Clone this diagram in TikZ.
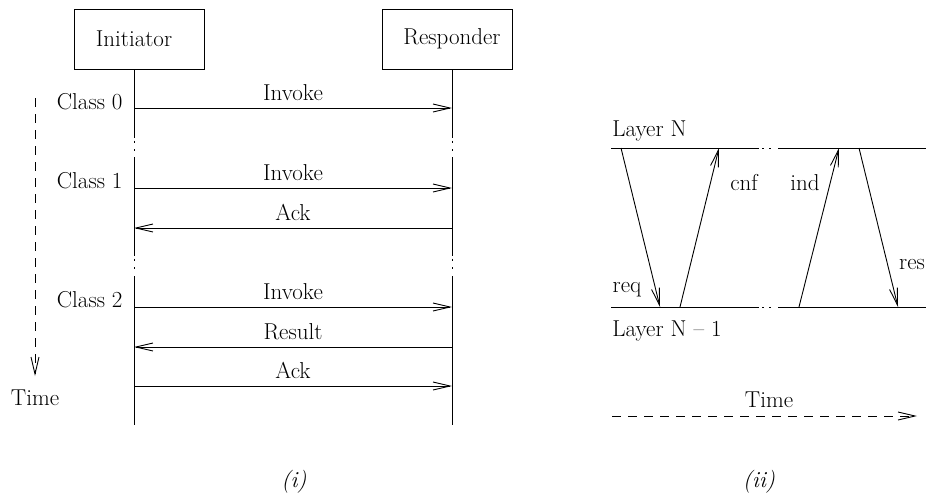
\documentclass[tikz,border=0pt]{standalone}
\usepackage{fontspec}
\setmainfont{Latin Modern Roman}
\usetikzlibrary{arrows.meta}
\begin{document}
\begin{tikzpicture}[x=1pt,y=-1pt,
  font=\fontsize{23}{27}\selectfont,
  line width=0.9pt,
  msg/.style={-{Straight Barb[length=17pt,width=8pt,line width=0.9pt]}},
  timeline/.style={msg, dash pattern=on 9pt off 7pt},
  box/.style={draw, minimum width=130pt, minimum height=60pt, inner sep=0pt},
  lbl/.style={inner sep=0pt}]
\useasboundingbox (0,0) rectangle (926,493);

% ---------- (i) ----------
\node[box] (ini) at (139,39) {\raisebox{-3pt}{Initiator\hspace{10pt}}};
\node[box] (res) at (447.5,39) {\raisebox{-3pt}{\hspace{9pt}Responder}};

% lifelines (with breaks)
\foreach \n/\x in {a/134,b/452}{
  \coordinate (\n top) at (\x,69);
  \coordinate (\n e1) at (\x,138);
  \coordinate (\n d1) at (\x,140.5); \coordinate (\n d1b) at (\x,142.5);
  \coordinate (\n d2) at (\x,149);   \coordinate (\n d2b) at (\x,151);
  \coordinate (\n s2) at (\x,157);
  \coordinate (\n e2) at (\x,256);
  \coordinate (\n d3) at (\x,258.5); \coordinate (\n d3b) at (\x,260.5);
  \coordinate (\n d4) at (\x,267);   \coordinate (\n d4b) at (\x,269);
  \coordinate (\n s3) at (\x,276);
  \coordinate (\n bot) at (\x,425);
  \draw (\n top) -- (\n e1) (\n d1) -- (\n d1b) (\n d2) -- (\n d2b)
        (\n s2) -- (\n e2) (\n d3) -- (\n d3b) (\n d4) -- (\n d4b)
        (\n s3) -- (\n bot);
}

% message anchors
\foreach \y/\k in {108/1,188/2,228/3,307/4,347/5,386/6}{
  \coordinate (L\k) at (134,\y);
  \coordinate (R\k) at (452,\y);
}
\draw[msg] (L1) -- (R1) node[midway, above=7pt, lbl] (m1) {Invoke};
\draw[msg] (L2) -- (R2) node[midway, above=7pt, lbl] (m2) {Invoke};
\draw[msg] (R3) -- (L3) node[midway, above=7pt, lbl] (m3) {Ack};
\draw[msg] (L4) -- (R4) node[midway, above=7pt, lbl] (m4) {Invoke};
\draw[msg] (R5) -- (L5) node[midway, above=7pt, lbl] (m5) {Result};
\draw[msg] (L6) -- (R6) node[midway, above=7pt, lbl] (m6) {Ack};

\node[lbl, anchor=east] (c0) at (123,102) {Class 0};
\node[lbl, anchor=east] (c1) at (123,181) {Class 1};
\node[lbl, anchor=east] (c2) at (123,300) {Class 2};

\coordinate (t1s) at (35,98);
\node[lbl] (t1) at (35,398) {Time};
\coordinate (t1e) at (35,376);
\draw[timeline] (t1s) -- (t1e);

\node[lbl] (capi) at (294,482) {\itshape (i)};

% ---------- (ii) ----------
\node[lbl, anchor=west] (LN) at (612,131) {Layer N};
\node[lbl, anchor=west] (LN1) at (612,331) {Layer N -- 1};

\coordinate (Na) at (611,148); \coordinate (Nb) at (759,148);
\coordinate (Nc) at (778,148); \coordinate (Nd) at (926,148);
\coordinate (Ma) at (611,307); \coordinate (Mb) at (759,307);
\coordinate (Mc) at (778,307); \coordinate (Md) at (926,307);
\draw (Na) -- (Nb) (Nc) -- (Nd);
\draw (Ma) -- (Mb) (Mc) -- (Md);
\draw (762,148) -- (764,148) (769,148) -- (771,148);
\draw (762,307) -- (764,307) (769,307) -- (771,307);

\coordinate (reqS) at (621,148); \coordinate (reqE) at (660,307);
\coordinate (cnfS) at (680,307); \coordinate (cnfE) at (719,148);
\coordinate (indS) at (799,307); \coordinate (indE) at (839,148);
\coordinate (resS) at (859,148); \coordinate (resE) at (898,307);
\draw[msg] (reqS) -- (reqE);
\draw[msg] (cnfS) -- (cnfE);
\draw[msg] (indS) -- (indE);
\draw[msg] (resS) -- (resE);
\node[lbl] (lreq) at (627,290) {req};
\node[lbl] (lcnf) at (744,183) {cnf};
\node[lbl] (lind) at (805,183) {ind};
\node[lbl] (lres) at (912,265) {res};

\coordinate (t2s) at (612,416); \coordinate (t2e) at (917,416);
\draw[timeline] (t2s) -- (t2e);
\node[lbl] (t2) at (769,400) {Time};

\node[lbl] (capii) at (759,482) {\itshape (ii)};
\end{tikzpicture}
\end{document}
